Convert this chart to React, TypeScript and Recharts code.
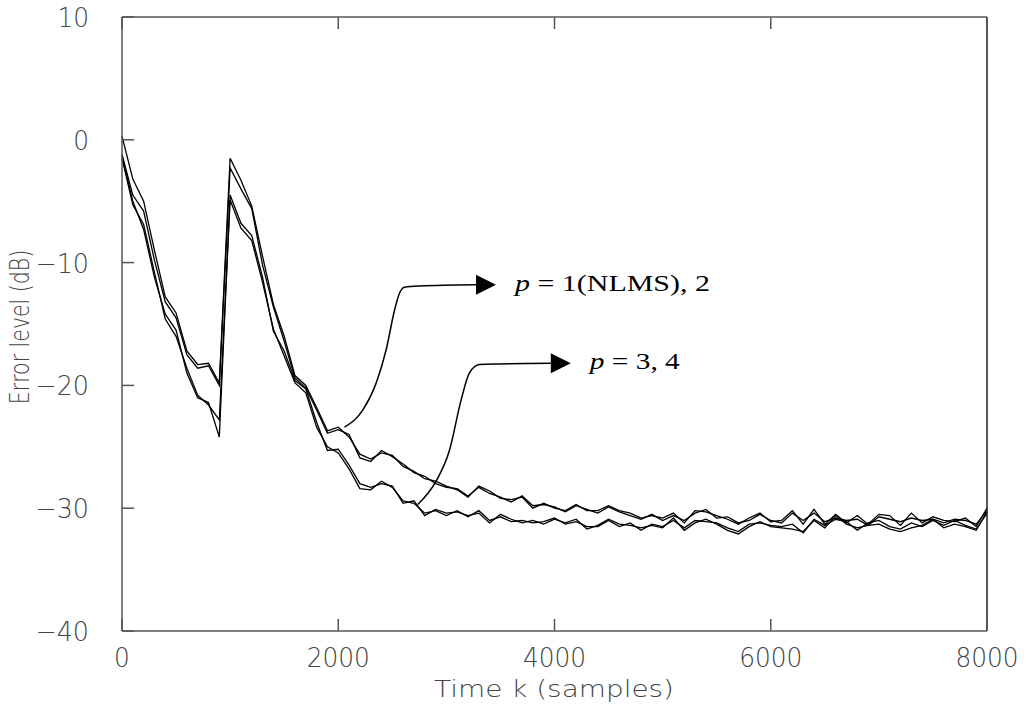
import React from 'react';
import { LineChart, Line, XAxis, YAxis, ReferenceDot } from 'recharts';

const samples = [
  0, 100, 200, 300, 400, 500, 600, 700, 800, 900,
  1000, 1100, 1200, 1300, 1400, 1500, 1600, 1700, 1800, 1900,
  2000, 2100, 2200, 2300, 2400, 2500, 2600, 2700, 2800, 2900,
  3000, 3100, 3200, 3300, 3400, 3500, 3600, 3700, 3800, 3900,
  4000, 4100, 4200, 4300, 4400, 4500, 4600, 4700, 4800, 4900,
  5000, 5100, 5200, 5300, 5400, 5500, 5600, 5700, 5800, 5900,
  6000, 6100, 6200, 6300, 6400, 6500, 6600, 6700, 6800, 6900,
  7000, 7100, 7200, 7300, 7400, 7500, 7600, 7700, 7800, 7900,
  8000,
];

const errP1 = [
  0.3, -3.2, -5.0, -9.0, -12.8, -14.1, -17.2, -18.3, -18.2, -19.8,
  -1.5, -3.3, -5.4, -9.5, -13.4, -16.0, -19.2, -20.0, -21.8, -23.7,
  -23.4, -24.2, -25.6, -26.0, -25.5, -25.7, -26.6, -27.0, -27.6, -27.8,
  -28.2, -28.5, -29.1, -28.2, -28.6, -29.2, -29.3, -29.1, -30.0, -29.6,
  -30.0, -30.2, -29.7, -30.2, -30.2, -29.8, -30.2, -30.4, -30.8, -30.6,
  -30.8, -30.4, -31.2, -30.2, -30.3, -30.6, -30.9, -31.3, -30.8, -30.4,
  -31.1, -31.0, -30.2, -31.3, -30.1, -31.3, -30.5, -31.2, -30.6, -31.3,
  -30.5, -30.6, -31.4, -30.4, -31.2, -30.7, -31.0, -31.1, -30.8, -31.5,
  -30.0,
];

const errP2 = [
  -1.2, -4.5, -5.8, -9.8, -13.2, -14.5, -17.5, -18.6, -18.4, -20.0,
  -2.3, -4.0, -5.6, -10.2, -13.6, -16.4, -19.4, -20.2, -22.0, -23.9,
  -23.6, -24.0, -25.9, -26.2, -25.3, -25.8, -26.4, -27.1, -27.4, -28.0,
  -28.3, -28.4, -29.0, -28.3, -28.8, -29.1, -29.5, -29.0, -29.8, -29.7,
  -29.9, -30.3, -29.8, -30.1, -30.4, -29.9, -30.3, -30.6, -30.9, -30.5,
  -31.0, -30.6, -31.0, -30.4, -30.1, -30.8, -30.7, -31.2, -31.0, -30.5,
  -31.0, -31.2, -30.4, -31.0, -30.4, -31.1, -30.8, -31.0, -30.9, -31.4,
  -30.7, -30.9, -31.1, -30.8, -31.0, -30.9, -31.2, -30.9, -31.0, -31.3,
  -30.2,
];

const errP3 = [
  -1.3, -5.0, -7.3, -11.2, -14.2, -15.5, -19.0, -21.0, -21.4, -24.2,
  -4.5, -6.8, -7.8, -11.2, -15.6, -17.2, -19.6, -20.3, -23.0, -25.3,
  -25.2, -26.5, -28.0, -28.3, -28.0, -28.2, -29.6, -29.4, -30.6, -30.1,
  -30.4, -30.3, -30.6, -30.4, -31.2, -30.5, -30.9, -31.2, -31.0, -31.3,
  -30.9, -31.2, -30.9, -31.7, -31.4, -30.9, -31.3, -31.4, -31.6, -31.4,
  -31.6, -30.8, -31.8, -31.2, -30.9, -31.3, -31.8, -32.1, -31.5, -31.1,
  -31.5, -31.6, -31.7, -31.9, -31.0, -31.6, -30.6, -31.3, -31.6, -31.4,
  -31.3, -31.7, -31.9, -31.6, -31.4, -30.9, -31.6, -31.3, -31.5, -31.8,
  -30.3,
];

const errP4 = [
  -1.5, -5.3, -6.9, -10.8, -14.6, -16.0, -18.6, -20.8, -21.6, -22.8,
  -4.9, -7.2, -8.2, -11.6, -15.4, -17.6, -19.8, -20.6, -23.4, -25.0,
  -25.5, -26.8, -28.4, -28.5, -27.8, -28.3, -29.4, -29.6, -30.4, -30.2,
  -30.6, -30.2, -30.7, -30.2, -31.0, -30.7, -31.1, -31.0, -31.2, -31.1,
  -30.8, -31.3, -31.1, -31.5, -31.5, -31.0, -31.5, -31.2, -31.8, -31.3,
  -31.5, -31.0, -31.6, -31.0, -31.1, -31.2, -31.6, -31.9, -31.3, -31.2,
  -31.4, -31.5, -31.3, -32.0, -30.9, -31.4, -30.9, -31.1, -31.8, -31.2,
  -31.0, -31.5, -31.7, -31.2, -31.5, -31.0, -31.4, -31.0, -31.4, -31.7,
  -30.4,
];

const xTicks = [0, 2000, 4000, 6000, 8000];
const yTicks = [-40, -30, -20, -10, 0, 10];

// annotation leader curves (data coordinates)
const leader1K = [2058, 2228, 2351, 2443, 2520, 2566, 2612, 2751, 3274];
const leader1V = [-23.4, -22.0, -19.8, -17.1, -13.9, -12.5, -12.0, -11.9, -11.8];
const leader2K = [2735, 2905, 3028, 3136, 3212, 3305, 3489, 3966];
const leader2V = [-29.7, -27.8, -25.3, -21.2, -19.0, -18.3, -18.25, -18.2];
const label1 = ' = 1(NLMS), 2';
const label2 = ' = 3, 4';

const rows = samples.map((k, i) => ({
  k,
  p1: errP1[i],
  p2: errP2[i],
  p3: errP3[i],
  p4: errP4[i],
}));
const leader1 = leader1K.map((k, i) => ({ k, v: leader1V[i] }));
const leader2 = leader2K.map((k, i) => ({ k, v: leader2V[i] }));

const AX = '#555';
const TXT = '#444';
const THIN = "'DejaVu Sans ExtraLight', 'DejaVu Sans', sans-serif";
const TICK_FONT = { fontFamily: THIN, fontWeight: 200, fontSize: 27, fill: TXT };

const fmt = (v: number) => (v < 0 ? '\u2212' + Math.abs(v) : String(v));
const labelLen = (v: number) => {
  const s = String(Math.abs(v));
  return s.length * 15.8 + (v < 0 ? 22 : 0);
};

const BottomTick = (props: any) => {
  const { x, y, payload } = props;
  const v = payload.value;
  return (
    <g>
      <line x1={x} y1={y} x2={x} y2={y - 12} stroke={AX} strokeWidth={1.5} />
      <text
        x={x}
        y={y + 36}
        textAnchor="middle"
        textLength={labelLen(v)}
        lengthAdjust="spacingAndGlyphs"
        {...TICK_FONT}
      >
        {fmt(v)}
      </text>
    </g>
  );
};

const TopTick = (props: any) => {
  const { x, y } = props;
  return <line x1={x} y1={y} x2={x} y2={y + 12} stroke={AX} strokeWidth={1.5} />;
};

const LeftTick = (props: any) => {
  const { x, y, payload } = props;
  const v = payload.value;
  return (
    <g>
      <line x1={x} y1={y} x2={x + 12} y2={y} stroke={AX} strokeWidth={1.5} />
      <text
        x={x - 33}
        y={y + 10}
        textAnchor="end"
        textLength={labelLen(v)}
        lengthAdjust="spacingAndGlyphs"
        {...TICK_FONT}
      >
        {fmt(v)}
      </text>
    </g>
  );
};

const RightTick = (props: any) => {
  const { x, y } = props;
  return <line x1={x} y1={y} x2={x - 12} y2={y} stroke={AX} strokeWidth={1.5} />;
};

const makeArrow = (text: string, len: number) => (props: any) => {
  const { cx, cy } = props;
  return (
    <g>
      <polygon points={`${cx},${cy - 10} ${cx + 20},${cy} ${cx},${cy + 10}`} fill="#000" />
      <text
        x={cx + 39}
        y={cy + 6}
        fontFamily="'Liberation Serif', 'Times New Roman', serif"
        fontSize={23}
        fill="#000"
        textLength={len}
        lengthAdjust="spacingAndGlyphs"
      >
        <tspan fontStyle="italic">p</tspan>
        <tspan>{text}</tspan>
      </text>
    </g>
  );
};

const Arrow1 = makeArrow(label1, 195);
const Arrow2 = makeArrow(label2, 90);

export default function App() {
  return (
    <div style={{ position: 'fixed', left: 0, top: 0, width: 1026, height: 711, background: '#fff' }}>
      <LineChart
        width={1026}
        height={711}
        data={rows}
        margin={{ top: 16, right: 38, bottom: 40, left: 62 }}
      >
        <XAxis
          dataKey="k"
          type="number"
          domain={[0, 8000]}
          ticks={xTicks}
          interval={0}
          height={40}
          tickSize={0}
          tickMargin={0}
          axisLine={{ stroke: AX, strokeWidth: 1.5 }}
          tickLine={false}
          tick={<BottomTick />}
        />
        <XAxis
          xAxisId="top"
          orientation="top"
          dataKey="k"
          type="number"
          domain={[0, 8000]}
          ticks={xTicks}
          interval={0}
          height={1}
          tickSize={0}
          tickMargin={0}
          axisLine={{ stroke: AX, strokeWidth: 1.5 }}
          tickLine={false}
          tick={<TopTick />}
        />
        <YAxis
          type="number"
          domain={[-40, 10]}
          ticks={yTicks}
          interval={0}
          width={60}
          tickSize={0}
          tickMargin={0}
          axisLine={{ stroke: AX, strokeWidth: 1.5 }}
          tickLine={false}
          tick={<LeftTick />}
        />
        <YAxis
          yAxisId="right"
          orientation="right"
          type="number"
          domain={[-40, 10]}
          ticks={yTicks}
          interval={0}
          width={1}
          tickSize={0}
          tickMargin={0}
          axisLine={{ stroke: '#222', strokeWidth: 1.5 }}
          tickLine={false}
          tick={<RightTick />}
        />
        <Line dataKey="p1" type="linear" stroke="#000" strokeWidth={1.3} dot={false} isAnimationActive={false} />
        <Line dataKey="p2" type="linear" stroke="#000" strokeWidth={1.3} dot={false} isAnimationActive={false} />
        <Line dataKey="p3" type="linear" stroke="#000" strokeWidth={1.3} dot={false} isAnimationActive={false} />
        <Line dataKey="p4" type="linear" stroke="#000" strokeWidth={1.3} dot={false} isAnimationActive={false} />
        <Line data={leader1} dataKey="v" type="monotoneX" stroke="#000" strokeWidth={1.5} dot={false} isAnimationActive={false} />
        <Line data={leader2} dataKey="v" type="monotoneX" stroke="#000" strokeWidth={1.5} dot={false} isAnimationActive={false} />
        <ReferenceDot x={leader1K[leader1K.length - 1]} y={leader1V[leader1V.length - 1]} r={1} shape={<Arrow1 />} />
        <ReferenceDot x={leader2K[leader2K.length - 1]} y={leader2V[leader2V.length - 1]} r={1} shape={<Arrow2 />} />
      </LineChart>
      <svg width={1026} height={711} style={{ position: 'absolute', left: 0, top: 0, pointerEvents: 'none' }}>
        <text
          x={554}
          y={697}
          textAnchor="middle"
          fontFamily={THIN}
          fontWeight={200}
          fontSize={23}
          fill={TXT}
          textLength={240}
          lengthAdjust="spacingAndGlyphs"
        >
          Time k (samples)
        </text>
        <text
          transform="translate(29, 327) scale(1.3, 1) rotate(-90)"
          textAnchor="middle"
          fontFamily={THIN}
          fontWeight={200}
          fontSize={20.5}
          fill={TXT}
        >
          Error level (dB)
        </text>
      </svg>
    </div>
  );
}
